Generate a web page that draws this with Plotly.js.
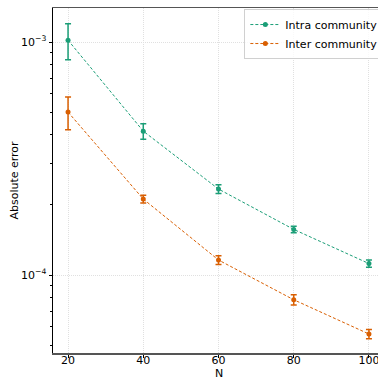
<!DOCTYPE html>
<html>
<head>
<meta charset="utf-8">
<script src="https://cdn.plot.ly/plotly-3.0.1.min.js"></script>
<style>
html,body{margin:0;padding:0;overflow:hidden;background:#fff;width:378px;height:379px;}
#chart{width:400px;height:379px;}
</style>
</head>
<body>
<div id="chart"></div>
<script>
const N = [20, 40, 60, 80, 100];
const intraErr = [1.02e-3, 4.15e-4, 2.34e-4, 1.57e-4, 1.12e-4];
const intraStd = [1.8e-4, 3.2e-5, 1.0e-5, 5e-6, 4e-6];
const interErr = [5.01e-4, 2.12e-4, 1.16e-4, 7.83e-5, 5.58e-5];
const interStd = [8.0e-5, 8e-6, 5e-6, 4e-6, 2.5e-6];
const yTickVals = [1e-4, 1e-3];
const yTickText = ['10<sup>−4</sup>', '10<sup>−3</sup>'];
const yMinorVals = [5e-5, 6e-5, 7e-5, 8e-5, 9e-5, 2e-4, 3e-4, 4e-4, 5e-4, 6e-4, 7e-4, 8e-4, 9e-4];

function series(name, y, e, color) {
  return {
    x: N, y: y, name: name, type: 'scatter', mode: 'lines+markers',
    line: {color: color, width: 1, dash: '3px,2px'},
    marker: {color: color, size: 5},
    error_y: {type: 'data', array: e, visible: true, color: color, thickness: 1.5, width: 3}
  };
}

const data = [
  series('Intra community', intraErr, intraStd, '#1b9e77'),
  series('Inter community', interErr, interStd, '#d95f02')
];

const font = {family: 'DejaVu Sans, sans-serif', size: 11, color: '#000'};
const layout = {
  width: 400, height: 379,
  margin: {l: 53, r: 16, t: 8, b: 26},
  paper_bgcolor: '#fff', plot_bgcolor: '#fff',
  font: font,
  showlegend: true,
  legend: {x: 0.998, y: 0.997, xanchor: 'right', yanchor: 'top', bgcolor: 'rgba(255,255,255,0.8)',
           bordercolor: '#d0d0d0', borderwidth: 1, font: {family: 'DejaVu Sans, sans-serif', size: 11},
           itemwidth: 30, tracegroupgap: 0},
  xaxis: {
    range: [16, 104], tickvals: N, ticktext: N.map(String),
    showgrid: true, gridcolor: '#e0e0e0', griddash: '1px,1px', gridwidth: 1,
    ticks: 'outside', ticklen: 3.5, tickcolor: '#000',
    ticklabelstandoff: -7,
    showline: true, linecolor: '#555', linewidth: 1.5, mirror: true, zeroline: false,
    tickfont: font, automargin: false
  },
  yaxis: {
    type: 'log', range: [-4.335, -2.853],
    tickvals: yTickVals, ticktext: yTickText,
    showgrid: true, gridcolor: '#e0e0e0', griddash: '1px,1px', gridwidth: 1,
    ticks: 'outside', ticklen: 3.5, tickcolor: '#000',
    minor: {tickvals: yMinorVals, ticks: 'outside', ticklen: 2, tickcolor: '#000', showgrid: false},
    showline: true, linecolor: '#000', linewidth: 1, zeroline: false,
    title: {text: 'Absolute error', font: font, standoff: 0},
    tickfont: font, automargin: false
  },
  annotations: [{
    text: 'N', xref: 'paper', yref: 'paper', x: 0.5, y: -0.059,
    xanchor: 'center', yanchor: 'middle', showarrow: false, font: font
  }]
};

Plotly.newPlot('chart', data, layout, {displayModeBar: false, staticPlot: true});
</script>
</body>
</html>
